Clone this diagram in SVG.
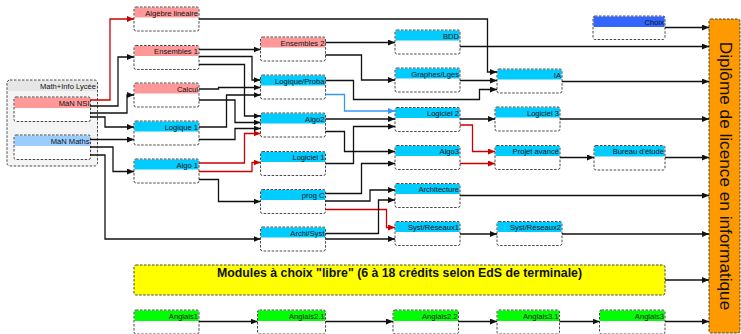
<svg xmlns="http://www.w3.org/2000/svg" width="741" height="334" viewBox="0 0 741 334">
<style>
.body{fill:#fff}
.frame{fill:none;stroke:#333;stroke-width:0.9;stroke-dasharray:2.5,1.5}
.pink{fill:#ff9999}
.cyan{fill:#00ccff}
.lblue{fill:#99ccff}
.blue{fill:#3366ff}
.green{fill:#00ff00}
.lbl{font-family:"Liberation Sans",Arial,sans-serif;font-size:7.6px;fill:#111;text-anchor:end}
.c{fill:none;stroke:#111;stroke-width:1.3}
.c.r{stroke:#cc0000}
.c.b{stroke:#3399ff}
.ck{marker-end:url(#ak)}
.cr{marker-end:url(#ar)}
.cb{marker-end:url(#ab)}
</style>
<defs>
<marker id="ak" markerUnits="userSpaceOnUse" markerWidth="8" markerHeight="6" refX="7" refY="3" orient="auto"><path d="M0,0 L7,3 L0,6 z" fill="#111"/></marker>
<marker id="ar" markerUnits="userSpaceOnUse" markerWidth="8" markerHeight="6" refX="7" refY="3" orient="auto"><path d="M0,0 L7,3 L0,6 z" fill="#cc0000"/></marker>
<marker id="ab" markerUnits="userSpaceOnUse" markerWidth="8" markerHeight="6" refX="7" refY="3" orient="auto"><path d="M0,0 L7,3 L0,6 z" fill="#3399ff"/></marker>
</defs>
<rect width="741" height="334" fill="#fff"/>

<g id="lycee">
<rect x="7" y="80" width="90.5" height="86" rx="3" fill="#f4f4f4"/>
<rect x="7.5" y="80.5" width="89.5" height="10.5" fill="#e6e6e6"/>
<rect class="frame" x="7" y="80" width="90.5" height="86" rx="3"/>
<text class="lbl" x="96" y="88.8">Math+Info Lycée</text>
</g>
<g id="man-nsi"><rect class="body" x="14" y="97" width="76.5" height="24.5" rx="2"/><rect class="pink" x="14.5" y="97.5" width="75.5" height="10.5"/><rect class="frame" x="14" y="97" width="76.5" height="24.5" rx="2"/><text class="lbl" x="89.5" y="105.8">MàN NSI</text></g>
<g id="man-maths"><rect class="body" x="14" y="135" width="76.5" height="24.5" rx="2"/><rect class="lblue" x="14.5" y="135.5" width="75.5" height="10.5"/><rect class="frame" x="14" y="135" width="76.5" height="24.5" rx="2"/><text class="lbl" x="89.5" y="143.8">MàN Maths</text></g>

<g id="algebre"><rect class="body" x="134" y="7" width="65" height="24" rx="2"/><rect class="pink" x="134.5" y="7.5" width="64" height="10"/><rect class="frame" x="134" y="7" width="65" height="24" rx="2"/><text class="lbl" x="198" y="15.8">Algèbre linéaire</text></g>
<g id="ensembles1"><rect class="body" x="134" y="45.5" width="65" height="24" rx="2"/><rect class="pink" x="134.5" y="46" width="64" height="10"/><rect class="frame" x="134" y="45.5" width="65" height="24" rx="2"/><text class="lbl" x="198" y="54.3">Ensembles 1</text></g>
<g id="calcul"><rect class="body" x="134" y="83" width="65" height="24" rx="2"/><rect class="pink" x="134.5" y="83.5" width="64" height="10"/><rect class="frame" x="134" y="83" width="65" height="24" rx="2"/><text class="lbl" x="198" y="91.8">Calcul</text></g>
<g id="logique1"><rect class="body" x="134" y="121" width="65" height="24" rx="2"/><rect class="cyan" x="134.5" y="121.5" width="64" height="10"/><rect class="frame" x="134" y="121" width="65" height="24" rx="2"/><text class="lbl" x="198" y="129.8">Logique 1</text></g>
<g id="algo1"><rect class="body" x="134" y="159" width="65" height="24" rx="2"/><rect class="cyan" x="134.5" y="159.5" width="64" height="10"/><rect class="frame" x="134" y="159" width="65" height="24" rx="2"/><text class="lbl" x="198" y="167.8">Algo 1</text></g>

<g id="ensembles2"><rect class="body" x="260.5" y="37" width="65" height="24" rx="2"/><rect class="pink" x="261" y="37.5" width="64" height="10"/><rect class="frame" x="260.5" y="37" width="65" height="24" rx="2"/><text class="lbl" x="324.5" y="45.8">Ensembles 2</text></g>
<g id="logiqueproba"><rect class="body" x="260.5" y="75" width="65" height="24" rx="2"/><rect class="cyan" x="261" y="75.5" width="64" height="10"/><rect class="frame" x="260.5" y="75" width="65" height="24" rx="2"/><text class="lbl" x="324.5" y="83.8">Logique/Proba</text></g>
<g id="algo2"><rect class="body" x="260.5" y="113" width="65" height="24" rx="2"/><rect class="cyan" x="261" y="113.5" width="64" height="10"/><rect class="frame" x="260.5" y="113" width="65" height="24" rx="2"/><text class="lbl" x="324.5" y="121.8">Algo2</text></g>
<g id="logiciel1"><rect class="body" x="260.5" y="151.5" width="65" height="24" rx="2"/><rect class="cyan" x="261" y="152" width="64" height="10"/><rect class="frame" x="260.5" y="151.5" width="65" height="24" rx="2"/><text class="lbl" x="324.5" y="160.3">Logiciel 1</text></g>
<g id="progc"><rect class="body" x="260.5" y="189.5" width="65" height="24" rx="2"/><rect class="cyan" x="261" y="190" width="64" height="10"/><rect class="frame" x="260.5" y="189.5" width="65" height="24" rx="2"/><text class="lbl" x="324.5" y="198.3">prog C</text></g>
<g id="archisyst"><rect class="body" x="260.5" y="227" width="65" height="24" rx="2"/><rect class="cyan" x="261" y="227.5" width="64" height="10"/><rect class="frame" x="260.5" y="227" width="65" height="24" rx="2"/><text class="lbl" x="324.5" y="235.8">Archi/Syst</text></g>

<g id="bdd"><rect class="body" x="395" y="30" width="65" height="24" rx="2"/><rect class="cyan" x="395.5" y="30.5" width="64" height="10"/><rect class="frame" x="395" y="30" width="65" height="24" rx="2"/><text class="lbl" x="459" y="38.8">BDD</text></g>
<g id="graphes"><rect class="body" x="395" y="68" width="65" height="24" rx="2"/><rect class="cyan" x="395.5" y="68.5" width="64" height="10"/><rect class="frame" x="395" y="68" width="65" height="24" rx="2"/><text class="lbl" x="459" y="76.8">Graphes/Lges</text></g>
<g id="logiciel2"><rect class="body" x="395" y="107.5" width="65" height="24" rx="2"/><rect class="cyan" x="395.5" y="108" width="64" height="10"/><rect class="frame" x="395" y="107.5" width="65" height="24" rx="2"/><text class="lbl" x="459" y="116.3">Logiciel 2</text></g>
<g id="algo3"><rect class="body" x="395" y="145.5" width="65" height="24" rx="2"/><rect class="cyan" x="395.5" y="146" width="64" height="10"/><rect class="frame" x="395" y="145.5" width="65" height="24" rx="2"/><text class="lbl" x="459" y="154.3">Algo3</text></g>
<g id="architecture"><rect class="body" x="395" y="183.5" width="65" height="24" rx="2"/><rect class="cyan" x="395.5" y="184" width="64" height="10"/><rect class="frame" x="395" y="183.5" width="65" height="24" rx="2"/><text class="lbl" x="459" y="192.3">Architecture</text></g>
<g id="systres1"><rect class="body" x="395" y="221.5" width="65" height="24" rx="2"/><rect class="cyan" x="395.5" y="222" width="64" height="10"/><rect class="frame" x="395" y="221.5" width="65" height="24" rx="2"/><text class="lbl" x="459" y="230.3">Syst/Réseaux1</text></g>

<g id="ia"><rect class="body" x="497" y="69" width="65" height="24" rx="2"/><rect class="cyan" x="497.5" y="69.5" width="64" height="10"/><rect class="frame" x="497" y="69" width="65" height="24" rx="2"/><text class="lbl" x="561" y="77.8">IA</text></g>
<g id="logiciel3"><rect class="body" x="495" y="107" width="65" height="24" rx="2"/><rect class="cyan" x="495.5" y="107.5" width="64" height="10"/><rect class="frame" x="495" y="107" width="65" height="24" rx="2"/><text class="lbl" x="559" y="115.8">Logiciel 3</text></g>
<g id="projet"><rect class="body" x="495" y="145.5" width="65" height="24" rx="2"/><rect class="cyan" x="495.5" y="146" width="64" height="10"/><rect class="frame" x="495" y="145.5" width="65" height="24" rx="2"/><text class="lbl" x="559" y="154.3">Projet avancé</text></g>
<g id="systres2"><rect class="body" x="497" y="221.5" width="65" height="24" rx="2"/><rect class="cyan" x="497.5" y="222" width="64" height="10"/><rect class="frame" x="497" y="221.5" width="65" height="24" rx="2"/><text class="lbl" x="561" y="230.3">Syst/Réseaux2</text></g>

<g id="choix"><rect class="body" x="593" y="16" width="72" height="23.5" rx="2"/><rect class="blue" x="593.5" y="16.5" width="71" height="10.5"/><rect class="frame" x="593" y="16" width="72" height="23.5" rx="2"/><text class="lbl" x="664" y="24.8">Choix</text></g>
<g id="bureau"><rect class="body" x="594" y="145.5" width="71" height="24.5" rx="2"/><rect class="cyan" x="594.5" y="146" width="70" height="10.5"/><rect class="frame" x="594" y="145.5" width="71" height="24.5" rx="2"/><text class="lbl" x="664" y="154.3">Bureau d'étude</text></g>

<g id="modules"><rect x="134" y="265" width="531" height="30" rx="2" fill="#ffff00"/><rect class="frame" x="134" y="265" width="531" height="30" rx="2"/><text x="399.5" y="277" font-family="'Liberation Sans',Arial,sans-serif" font-size="12.3" font-weight="bold" fill="#111" text-anchor="middle">Modules à choix "libre" (6 à 18 crédits selon EdS de terminale)</text></g>

<g id="anglais1"><rect class="body" x="134" y="310" width="65" height="24" rx="2"/><rect class="green" x="134.5" y="310.5" width="64" height="10.5"/><rect class="frame" x="134" y="310" width="65" height="24" rx="2"/><text class="lbl" x="198" y="318.8">Anglais1</text></g>
<g id="anglais21"><rect class="body" x="257.5" y="310" width="68" height="24" rx="2"/><rect class="green" x="258" y="310.5" width="67" height="10.5"/><rect class="frame" x="257.5" y="310" width="68" height="24" rx="2"/><text class="lbl" x="324.5" y="318.8">Anglais2.1</text></g>
<g id="anglais22"><rect class="body" x="393" y="310" width="65.5" height="24" rx="2"/><rect class="green" x="393.5" y="310.5" width="64.5" height="10.5"/><rect class="frame" x="393" y="310" width="65.5" height="24" rx="2"/><text class="lbl" x="457.5" y="318.8">Anglais2.2</text></g>
<g id="anglais31"><rect class="body" x="497" y="310" width="62.5" height="24" rx="2"/><rect class="green" x="497.5" y="310.5" width="61.5" height="10.5"/><rect class="frame" x="497" y="310" width="62.5" height="24" rx="2"/><text class="lbl" x="558.5" y="318.8">Anglais3.1</text></g>
<g id="anglais3"><rect class="body" x="599.5" y="310" width="65.5" height="24" rx="2"/><rect class="green" x="600" y="310.5" width="64.5" height="10.5"/><rect class="frame" x="599.5" y="310" width="65.5" height="24" rx="2"/><text class="lbl" x="664" y="318.8">Anglais3</text></g>

<g id="diplome"><rect x="709" y="19" width="31" height="314" rx="2" fill="#ff9900"/><rect class="frame" x="709" y="19" width="31" height="314" rx="2"/><text transform="translate(719.5,176) rotate(90)" font-family="'Liberation Sans',Arial,sans-serif" font-size="17.2" fill="#111" text-anchor="middle">Diplôme de licence en informatique</text></g>

<g id="connectors">
<path class="c r cr" d="M90,100 H110 V19 H134"/>
<path class="c r cr" d="M199,163 H244.5 V133.5 H260.5"/>
<path class="c r cr" d="M199,171.5 H252 V162.5 H260.5"/>
<path class="c r cr" d="M460,125 H472.5 V151.5 H495"/>
<path class="c r cr" d="M460,163.5 H495"/>
<path class="c r cr" d="M325.5,209.5 H386.5 V227.5 H395"/>
<path class="c b cb" d="M325.5,94.5 H344.5 V111 H395"/>
<path class="c ck" d="M90,106 H118 V57 H134"/>
<path class="c ck" d="M90,113 H127 V95 H134"/>
<path class="c ck" d="M90,117 H105 V127 H134"/>
<path class="c ck" d="M90,139.5 H134"/>
<path class="c ck" d="M90,147 H113 V171.5 H134"/>
<path class="c ck" d="M90,155 H105 V239 H260.5"/>
<path class="c ck" d="M199,19 H487.5 V72 H497"/>
<path class="c ck" d="M199,49.5 H260.5"/>
<path class="c ck" d="M199,56.5 H252 V80 H260.5"/>
<path class="c ck" d="M199,64.5 H244.5 V116 H260.5"/>
<path class="c ck" d="M199,89 H218.5 V87.5 H260.5"/>
<path class="c ck" d="M199,100 H235 V122.5 H260.5"/>
<path class="c ck" d="M199,127 H226.5 V95 H260.5"/>
<path class="c ck" d="M199,139.5 H235 V128.5 H260.5"/>
<path class="c ck" d="M199,179.5 H218.5 V201.5 H260.5"/>
<path class="c ck" d="M325.5,42.5 H395"/>
<path class="c ck" d="M325.5,55 H361.5 V80 H395"/>
<path class="c ck" d="M325.5,80.5 H353.5 V99.5 H479.5 V89.5 H497"/>
<path class="c ck" d="M325.5,119 H395"/>
<path class="c ck" d="M325.5,131.5 H344.5 V151.5 H395"/>
<path class="c ck" d="M325.5,163.5 H353.5 V126.5 H395"/>
<path class="c ck" d="M325.5,193.5 H361.5 V163.5 H395"/>
<path class="c ck" d="M325.5,201 H370 V190 H395"/>
<path class="c ck" d="M325.5,233.5 H378.5 V200 H395"/>
<path class="c ck" d="M325.5,239 H395"/>
<path class="c ck" d="M460,46.5 H709"/>
<path class="c ck" d="M460,80.5 H497"/>
<path class="c ck" d="M460,119 H495"/>
<path class="c ck" d="M560,157.5 H594"/>
<path class="c ck" d="M460,195.5 H709"/>
<path class="c ck" d="M460,234 H497"/>
<path class="c ck" d="M665,27.5 H709"/>
<path class="c ck" d="M562,81.5 H709"/>
<path class="c ck" d="M560,119 H709"/>
<path class="c ck" d="M665,157.5 H709"/>
<path class="c ck" d="M562,234 H709"/>
<path class="c ck" d="M665,280 H709"/>
<path class="c ck" d="M199,321.5 H257.5"/>
<path class="c ck" d="M325.5,321.5 H393"/>
<path class="c ck" d="M458.5,321.5 H497"/>
<path class="c ck" d="M559.5,321.5 H599.5"/>
<path class="c ck" d="M665,321.5 H709"/>
</g>
</svg>
